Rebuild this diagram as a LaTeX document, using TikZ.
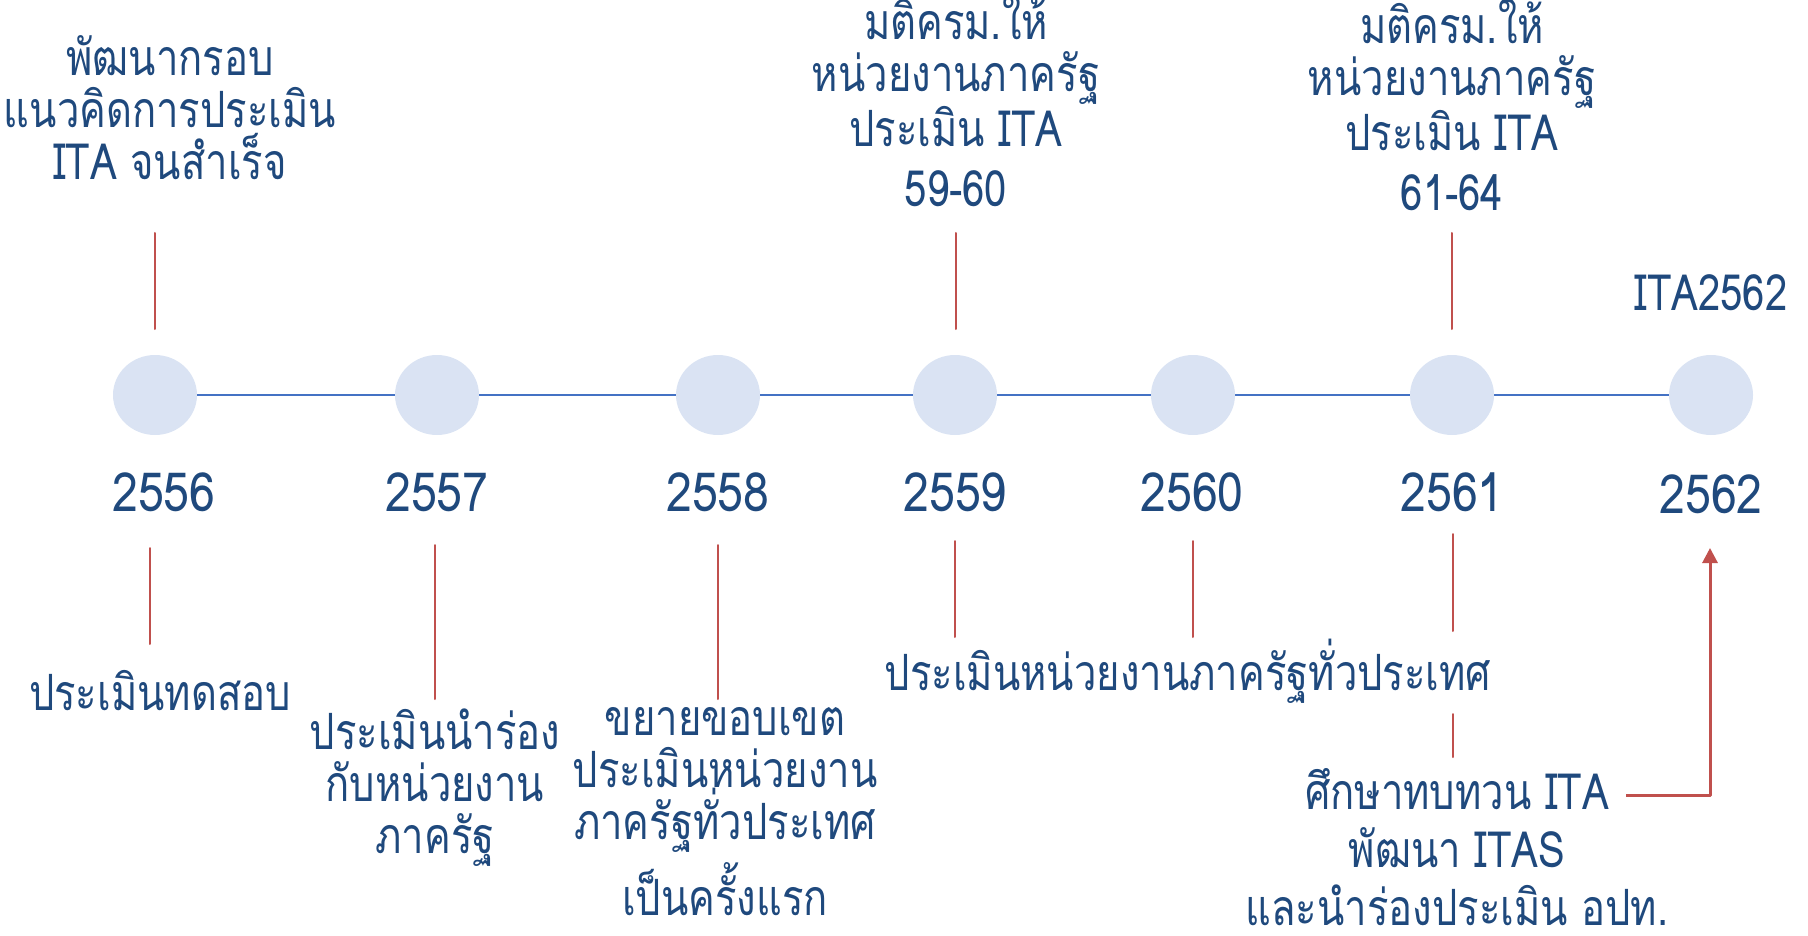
\documentclass[tikz,border=0pt]{standalone}
\usepackage{fontspec}
\usetikzlibrary{shapes.geometric,arrows.meta}
\newfontfamily\thaifont[Script=Thai,FakeStretch=0.8]{Loma}
\newfontfamily\yearfont[FakeStretch=0.86]{Loma}
\definecolor{txtblue}{HTML}{1F497D}
\definecolor{dotfill}{HTML}{DAE3F3}
\definecolor{axisblue}{HTML}{4472C4}
\definecolor{tickred}{HTML}{C0504D}
\tikzset{
	yeardot/.style={ellipse,fill=dotfill,minimum width=42pt,minimum height=40pt,inner sep=0pt},
	yearlbl/.style={anchor=base,text=txtblue,inner sep=0pt,font=\yearfont\fontsize{27}{30}\selectfont},
	thtxt/.style={anchor=base,align=center,text=txtblue,inner sep=0pt,font=\thaifont\fontsize{25}{26}\selectfont},
	tick/.style={draw=tickred,line width=1pt},
}
\begin{document}
\begin{tikzpicture}[line join = round, line cap = round,x=0.5pt,y=-0.5pt]
	\def\ya{395}
	\useasboundingbox (0,0) rectangle (1808,936);
	% axis
	\draw[axisblue,line width=1.2pt] (155,\ya)--(1711,\ya);
	\node[yeardot] (d56) at (155,\ya) {};
	\node[yeardot] (d57) at (437,\ya) {};
	\node[yeardot] (d58) at (718,\ya) {};
	\node[yeardot] (d59) at (955,\ya) {};
	\node[yeardot] (d60) at (1193,\ya) {};
	\node[yeardot] (d61) at (1452,\ya) {};
	\node[yeardot] (d62) at (1711,\ya) {};
	% years
	\node[yearlbl] (y56) at (164,511) {2556};
	\node[yearlbl] (y57) at (437,511) {2557};
	\node[yearlbl] (y58) at (718,511) {2558};
	\node[yearlbl] (y59) at (955,511) {2559};
	\node[yearlbl] (y60) at (1192,511) {2560};
	\node[yearlbl] (y61) at (1452,511) {2561};
	\node[yearlbl] (y62) at (1711,513) {2562};
	% texts above (anchor = last baseline)
	\node[thtxt] (a56) at (170,180) {พัฒนากรอบ\\แนวคิดการประเมิน\\ITA จนสำเร็จ};
	\node[thtxt] (a59) at (956,207) {มติครม.ให้\\หน่วยงานภาครัฐ\\ประเมิน ITA\\[4pt]59-60};
	\node[thtxt] (a61) at (1452,211) {มติครม.ให้\\หน่วยงานภาครัฐ\\ประเมิน ITA\\[4pt]61-64};
	\node[thtxt] (a62) at (1711,310) {ITA2562};
	% texts below
	\node[thtxt] (b56) at (160,710) {ประเมินทดสอบ};
	\node[thtxt] (b57) at (435,853) {ประเมินนำร่อง\\กับหน่วยงาน\\ภาครัฐ};
	\node[thtxt] (b58) at (725,915) {ขยายขอบเขต\\ประเมินหน่วยงาน\\ภาครัฐทั่วประเทศ\\[4pt]เป็นครั้งแรก};
	\node[thtxt] (b59) at (1188,690) {ประเมินหน่วยงานภาครัฐทั่วประเทศ};
	\node[thtxt,text depth=0pt,font=\thaifont\fontsize{25}{29}\selectfont] (b61) at (1457,925) {ศึกษาทบทวน ITA\\พัฒนา ITAS\\และนำร่องประเมิน อปท.};
	% red ticks
	\coordinate (u56a) at (155,233); \coordinate (u56b) at (155,329);
	\coordinate (u59a) at (956,233); \coordinate (u59b) at (956,329);
	\coordinate (u61a) at (1452,233); \coordinate (u61b) at (1452,329);
	\coordinate (l56a) at (150,548); \coordinate (l56b) at (150,644);
	\coordinate (l57a) at (435,545); \coordinate (l57b) at (435,699);
	\coordinate (l58a) at (718,545); \coordinate (l58b) at (718,699);
	\coordinate (l59a) at (955,541); \coordinate (l59b) at (955,637);
	\coordinate (l60a) at (1193,541); \coordinate (l60b) at (1193,637);
	\coordinate (l61a) at (1453,534); \coordinate (l61b) at (1453,631);
	\coordinate (m61a) at (1453,714); \coordinate (m61b) at (1453,757);
	\draw[tick] (u56a)--(u56b);
	\draw[tick] (u59a)--(u59b);
	\draw[tick] (u61a)--(u61b);
	\draw[tick] (l56a)--(l56b);
	\draw[tick] (l57a)--(l57b);
	\draw[tick] (l58a)--(l58b);
	\draw[tick] (l59a)--(l59b);
	\draw[tick] (l60a)--(l60b);
	\draw[tick] (l61a)--(l61b);
	\draw[tick] (m61a)--(m61b);
	% arrow to 2562
	\coordinate (arr) at (1626,795);
	\coordinate (tip) at (1710,548);
	\draw[tick,line width=1.5pt,line cap=butt,-{Triangle[length=7.5pt,width=7.5pt]}] (arr)-|(tip);
\end{tikzpicture}
\end{document}
